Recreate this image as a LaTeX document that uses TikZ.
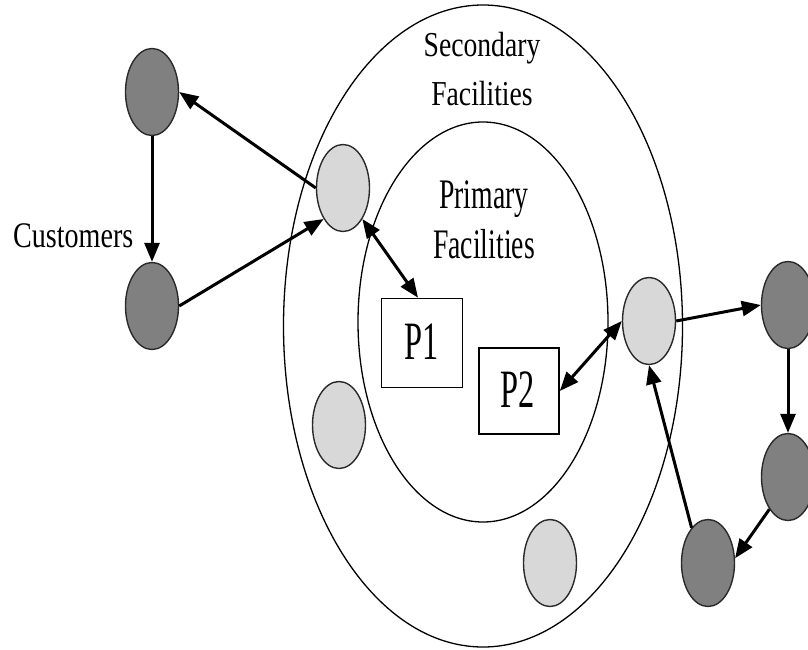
\documentclass[tikz,border=0pt]{standalone}
\usepackage{fontspec}
\setmainfont{Liberation Serif}
\usetikzlibrary{shapes.geometric,arrows.meta}
\newcommand\sqz[2]{\scalebox{#1}[1]{#2}}
\definecolor{custfill}{HTML}{808080}
\definecolor{facfill}{HTML}{D8D8D8}
\definecolor{edgegray}{HTML}{2A2A2A}
\tikzset{
  site/.style={ellipse, draw=edgegray, line width=1.4pt, inner sep=0pt,
               minimum width=53pt, minimum height=87pt},
  customer/.style={site, fill=custfill},
  facility/.style={site, fill=facfill},
  plant/.style={rectangle, draw=black, line width=1.6pt, inner sep=0pt},
  ring/.style={draw=black, line width=1.3pt},
  tip/.style={},
  flow/.style={line width=3pt, -{Triangle[length=19pt,width=15pt]}},
  twoway/.style={line width=3pt, {Triangle[length=19pt,width=15pt]}-{Triangle[length=19pt,width=15pt]}},
  lbl/.style={anchor=base, inner sep=0pt}
}
\begin{document}
\begin{tikzpicture}[x=1pt,y=-1pt]
\useasboundingbox (0,0) rectangle (808,650);

% facility rings
\node[ellipse, ring, minimum width=399pt, minimum height=642pt, inner sep=0pt] (outer) at (483,326) {};
\node[ellipse, ring, minimum width=250pt, minimum height=400pt, inner sep=0pt] (inner) at (483,322) {};

% ring labels
\node[lbl, font=\fontsize{35}{35}\selectfont] (sec1) at (482,57) {\sqz{0.79}{Secondary}};
\node[lbl, font=\fontsize{35}{35}\selectfont] (sec2) at (482,106) {\sqz{0.79}{Facilities}};
\node[lbl, font=\fontsize{42}{42}\selectfont] (pri1) at (484,208) {\sqz{0.66}{Primary}};
\node[lbl, font=\fontsize{42}{42}\selectfont] (pri2) at (484,258) {\sqz{0.66}{Facilities}};
\node[lbl, font=\fontsize{36}{36}\selectfont, anchor=base west] (cust) at (13,247) {\sqz{0.78}{Customers}};

% customers
\node[customer] (c1) at (152,92) {};
\node[customer] (c2) at (152,306) {};
\node[customer] (c3) at (788,305) {};
\node[customer] (c4) at (788,477) {};
\node[customer] (c5) at (708,563) {};

% secondary facilities
\node[facility] (s1) at (343,188) {};
\node[facility] (s2) at (649,321) {};
\node[facility] (s3) at (339,425) {};
\node[facility] (s4) at (550,563) {};

% primary facilities
\node[plant, minimum width=81pt, minimum height=89pt] (p1) at (422,343) {};
\node[lbl, font=\fontsize{54}{54}\selectfont] (p1t) at (422,359) {\sqz{0.6}{P1}};
\node[plant, minimum width=80pt, minimum height=86pt] (p2) at (519,391) {};
\node[lbl, font=\fontsize{54}{54}\selectfont] (p2t) at (518,407) {\sqz{0.6}{P2}};

% flows
\draw[flow] (s1.west) -- (c1.east);
\draw[flow] (c1.south) -- (c2.north);
\draw[flow] (c2.east) -- (s1.238);
\draw[twoway] (s1.302) -- ([xshift=-4pt]p1.north);
\draw[twoway] (p2.east) -- (s2.west);
\draw[flow] (s2.east) -- (c3.west);
\draw[flow] (c3.south) -- (c4.north);
\draw[flow] (c4.240) -- (c5.10);
\draw[flow] (c5.115) -- (s2.south);
\end{tikzpicture}
\end{document}
